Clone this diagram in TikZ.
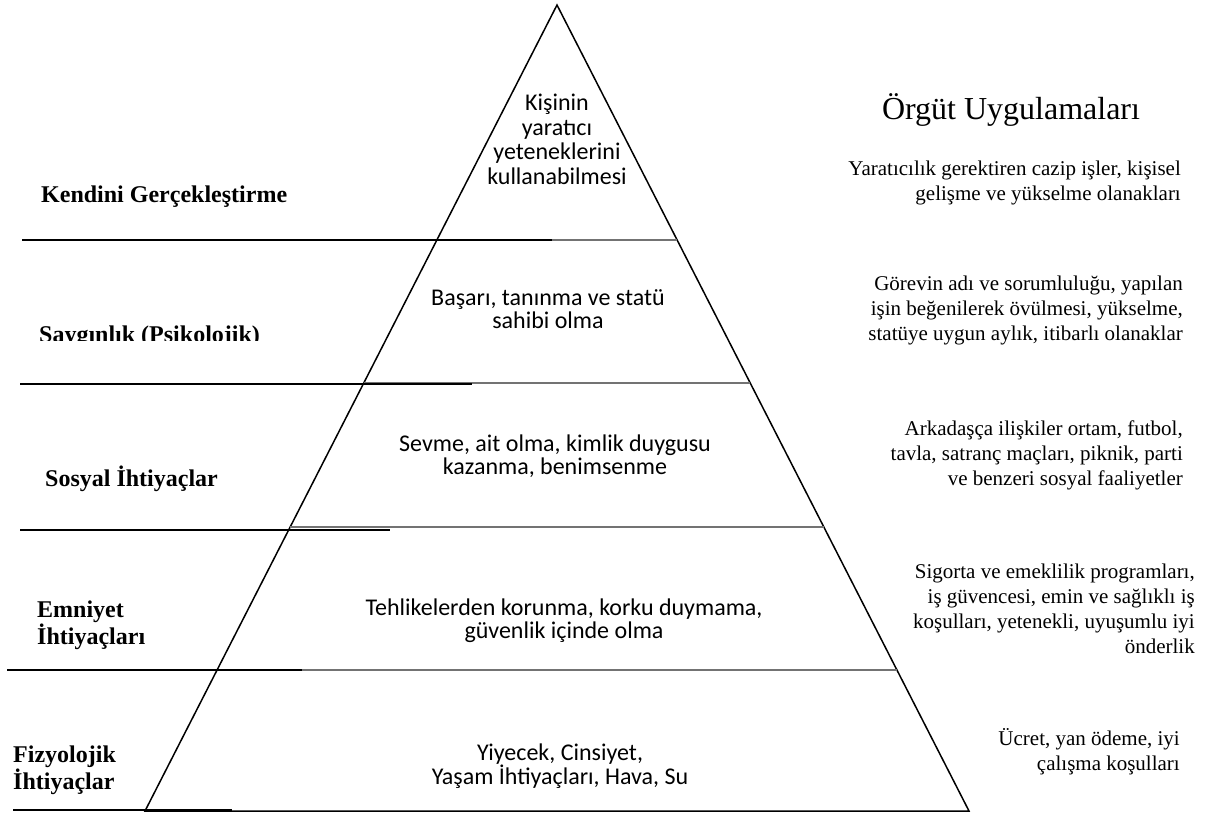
\documentclass[tikz,border=0pt]{standalone}
\usepackage{fontspec}
\setmainfont{Liberation Serif}
\newfontfamily\pyrfont{Carlito}
\usetikzlibrary{calc}

\begin{document}
\begin{tikzpicture}[x=1pt,y=-1pt,
  side/.style={line width=1.5pt, line join=miter},
  band/.style={line width=1.3pt, draw=black!55},
  rule/.style={line width=1.8pt},
  lvl/.style={font=\fontsize{24}{27}\selectfont\bfseries, align=left, inner sep=0pt},
  inner/.style={font=\pyrfont\fontsize{24}{23}\selectfont, align=center, inner sep=0pt},
  prac/.style={font=\fontsize{21}{25}\selectfont, align=right, anchor=north east, inner sep=0pt},
]
\useasboundingbox (0,0) rectangle (1211,818);

% pyramid outline
\coordinate (apex) at (557,5);
\coordinate (bl) at (145,811);
\coordinate (br) at (969,811);
\draw[side] (bl) -- (apex) -- (br) -- cycle;

% level boundaries inside the pyramid
\foreach \n/\t in {1/0.2916,2/0.4690,3/0.6476,4/0.8251}{
  \coordinate (l\n) at ($(apex)!\t!(bl)$);
  \coordinate (r\n) at ($(apex)!\t!(br)$);
}
\foreach \n in {1,...,4}{ \draw[band] (l\n) -- (r\n); }

% rules under the level names
\coordinate (a1) at (22,240);  \coordinate (b1) at (552,240);
\coordinate (a2) at (20,384);  \coordinate (b2) at (472,384);
\coordinate (a3) at (20,530);  \coordinate (b3) at (390,530);
\coordinate (a4) at (7,670);   \coordinate (b4) at (302,670);
\coordinate (a5) at (13,810);  \coordinate (b5) at (232,810);
\foreach \n in {1,...,5}{ \draw[rule] (a\n) -- (b\n); }

% level names
\node[lvl, anchor=base west] (n1) at (41,203) {Kendini Gerçekleştirme};
\begin{scope}
  \clip (0,300) rectangle (400,341);
  \node[lvl, anchor=base west] (n2) at (39,343) {Saygınlık (Psikolojik)};
\end{scope}
\node[lvl, anchor=base west] (n3) at (45,486) {Sosyal İhtiyaçlar};
\node[lvl, anchor=north west] (n4) at (37,601) {Emniyet\\İhtiyaçları};
\node[lvl, anchor=north west] (n5) at (13,746) {Fizyolojik\\İhtiyaçlar};

% contents of each level
\node[inner, anchor=north, font=\pyrfont\fontsize{24}{24.5}\selectfont] (p1) at (557,94)
  {Kişinin\\yaratıcı\\yeteneklerini\\kullanabilmesi};
\node[inner] (p2) at (548,309) {Başarı, tanınma ve statü\\sahibi olma};
\node[inner] (p3) at (555,456) {Sevme, ait olma, kimlik duygusu\\kazanma, benimsenme};
\node[inner] (p4) at (564,621) {Tehlikelerden korunma, korku duymama,\\güvenlik içinde olma};
\node[inner] (p5) at (560,766) {Yiyecek, Cinsiyet,\\Yaşam İhtiyaçları, Hava, Su};

% organisational practices
\node[font=\fontsize{32}{36}\selectfont, inner sep=0pt] (t0) at (1011,110) {Örgüt Uygulamaları};
\node[prac] (t1) at (1181,161) {Yaratıcılık gerektiren cazip işler, kişisel\\gelişme ve yükselme olanakları};
\node[prac] (t2) at (1183,276) {Görevin adı ve sorumluluğu, yapılan\\işin beğenilerek övülmesi, yükselme,\\statüye uygun aylık, itibarlı olanaklar};
\node[prac] (t3) at (1183,421) {Arkadaşça ilişkiler ortam, futbol,\\tavla, satranç maçları, piknik, parti\\ve benzeri sosyal faaliyetler};
\node[prac] (t4) at (1195,564) {Sigorta ve emeklilik programları,\\iş güvencesi, emin ve sağlıklı iş\\koşulları, yetenekli, uyuşumlu iyi\\önderlik};
\node[prac, anchor=east] (t5) at (1180,752) {Ücret, yan ödeme, iyi\\çalışma koşulları};
\end{tikzpicture}
\end{document}
